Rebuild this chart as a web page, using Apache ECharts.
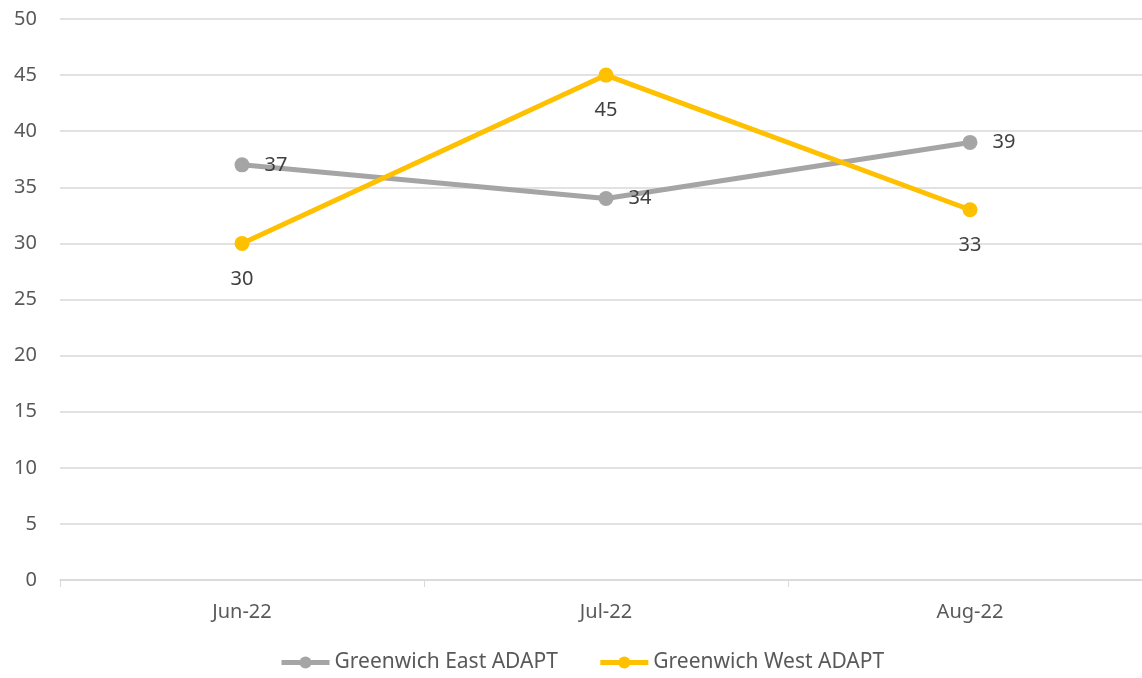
<!DOCTYPE html>
<html><head><meta charset="utf-8">
<script src="https://cdn.jsdelivr.net/npm/echarts@6/dist/echarts.min.js"></script>
<style>html,body{margin:0;padding:0;background:#fff;overflow:hidden}#c{width:1152px;height:678px}</style>
</head><body><div id="c"></div>
<script>
const categories = ['Jun-22', 'Jul-22', 'Aug-22'];
const eastValues = [37, 34, 39];
const westValues = [30, 45, 33];
const yTicks = [0, 5, 10, 15, 20, 25, 30, 35, 40, 45, 50];

const font = 'Noto Sans';
const chart = echarts.init(document.getElementById('c'));
chart.setOption({
  animation: false,
  textStyle: { fontFamily: font },
  grid: { left: 60, top: 19, right: 0, bottom: 98, containLabel: false },
  legend: {
    bottom: 0, left: 274, itemWidth: 48, itemHeight: 15, itemGap: 40,
    lineStyle: { width: 5 },
    textStyle: { fontSize: 21, color: '#595959', fontFamily: font },
    data: ['Greenwich East ADAPT', 'Greenwich West ADAPT']
  },
  xAxis: {
    type: 'category', data: categories, boundaryGap: true,
    axisLine: { lineStyle: { color: '#d9d9d9', width: 1.5 } },
    axisTick: { show: true, length: 7, lineStyle: { color: '#d9d9d9' } },
    axisLabel: { fontSize: 20, color: '#595959', margin: 22 }
  },
  yAxis: {
    type: 'value', min: yTicks[0], max: yTicks[yTicks.length - 1], interval: 5,
    axisLine: { show: false }, axisTick: { show: false },
    splitLine: { lineStyle: { color: '#d9d9d9', width: 1.5 } },
    axisLabel: { fontSize: 20, color: '#595959', margin: 23 }
  },
  series: [
    {
      name: 'Greenwich East ADAPT', type: 'line', data: eastValues,
      symbol: 'circle', symbolSize: 15,
      itemStyle: { color: '#A5A5A5' }, lineStyle: { color: '#A5A5A5', width: 5 },
      label: { show: true, position: 'right', distance: 15, fontSize: 20, color: '#404040' }
    },
    {
      name: 'Greenwich West ADAPT', type: 'line', data: westValues,
      symbol: 'circle', symbolSize: 15,
      itemStyle: { color: '#FFC000' }, lineStyle: { color: '#FFC000', width: 5 },
      label: { show: true, position: 'bottom', distance: 18, fontSize: 20, color: '#404040' }
    }
  ]
});
</script></body></html>
